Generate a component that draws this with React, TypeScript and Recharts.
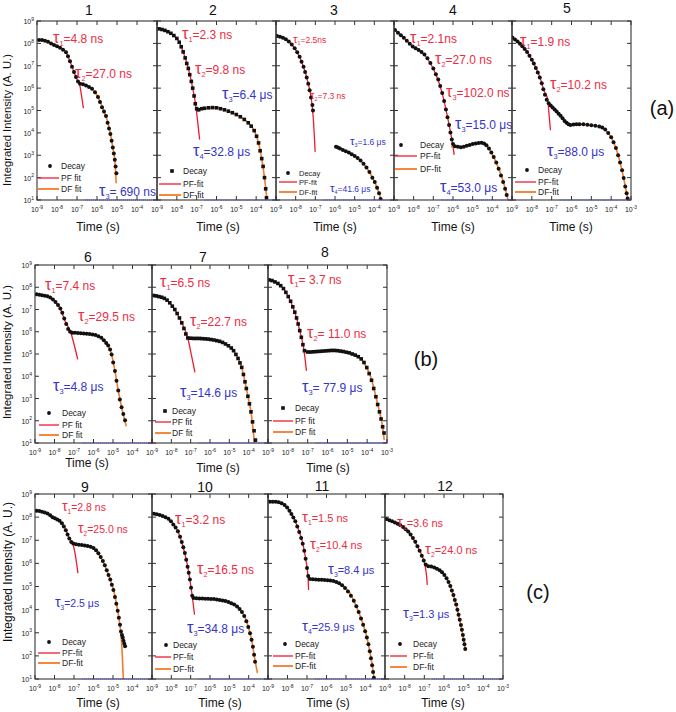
import React from 'react';
import { ComposedChart, Line, Scatter, XAxis, YAxis } from 'recharts';

// every point is [log10 time (s), log10 intensity (a.u.)]
type Pt = [number, number];

const decay1: Pt[] = [[-8.9,8.15],[-8.75,8.15],[-8.6,8.12],[-8.45,8.07],[-8.3,8.0],[-8.15,7.93],[-8.0,7.87],[-7.85,7.8],[-7.7,7.72],[-7.55,7.6],[-7.45,7.42],[-7.35,7.2],[-7.25,6.95],[-7.15,6.72],[-7.05,6.5],[-6.95,6.3],[-6.85,6.2],[-6.7,6.17],[-6.55,6.12],[-6.4,6.05],[-6.25,5.97],[-6.1,5.82],[-5.95,5.6],[-5.85,5.38],[-5.75,5.15],[-5.65,4.95],[-5.55,4.75],[-5.47,4.45],[-5.4,4.2],[-5.33,3.95],[-5.27,3.65],[-5.21,3.35],[-5.16,3.08],[-5.11,2.8],[-5.07,2.5],[-5.03,2.2]];
const pf1: Pt[] = [[-9,8.15],[-8.6,8.12],[-8.2,7.97],[-7.8,7.8],[-7.55,7.6],[-7.35,7.2],[-7.15,6.72],[-6.95,6.3],[-6.88,6.2],[-6.78,5.7],[-6.68,5.1]];
const df1: Pt[] = [[-6.9,6.25],[-6.7,6.18],[-6.4,6.06],[-6.1,5.83],[-5.85,5.4],[-5.65,4.95],[-5.5,4.6],[-5.35,4.05],[-5.2,3.3],[-5.1,2.7],[-5.04,1.75]];

const decay2: Pt[] = [[-8.9,8.65],[-8.75,8.62],[-8.6,8.58],[-8.45,8.52],[-8.3,8.45],[-8.15,8.35],[-8.0,8.22],[-7.88,8.05],[-7.78,7.85],[-7.68,7.62],[-7.58,7.35],[-7.5,7.1],[-7.42,6.88],[-7.35,6.6],[-7.27,6.3],[-7.2,6.0],[-7.13,5.65],[-7.07,5.3],[-7.0,5.08],[-6.9,5.03],[-6.75,5.08],[-6.6,5.1],[-6.4,5.12],[-6.2,5.13],[-6.0,5.12],[-5.8,5.08],[-5.6,5.03],[-5.4,4.97],[-5.2,4.9],[-5.0,4.82],[-4.8,4.72],[-4.6,4.6],[-4.4,4.45],[-4.25,4.3],[-4.1,4.1],[-3.98,3.85],[-3.88,3.55],[-3.8,3.2],[-3.72,2.85],[-3.65,2.5],[-3.58,2.0],[-3.52,1.5],[-3.48,1.1]];
const pf2: Pt[] = [[-9,8.66],[-8.6,8.58],[-8.2,8.38],[-7.9,8.1],[-7.68,7.62],[-7.42,6.88],[-7.2,6.0],[-7.05,5.25],[-6.95,4.5],[-6.85,3.7]];
const df2: Pt[] = [[-6.95,5.03],[-6.6,5.1],[-6.0,5.12],[-5.4,4.97],[-4.8,4.72],[-4.4,4.45],[-4.1,4.1],[-3.88,3.55],[-3.72,2.85],[-3.58,2.0],[-3.46,1.05]];

const decay3: Pt[] = [[-8.95,8.33],[-8.8,8.3],[-8.65,8.25],[-8.5,8.18],[-8.35,8.08],[-8.2,7.95],[-8.05,7.78],[-7.92,7.6],[-7.8,7.4],[-7.7,7.18],[-7.6,6.95],[-7.52,6.72],[-7.44,6.48],[-7.36,6.2],[-7.29,5.9],[-7.22,5.58],[-7.15,5.25],[-7.12,5.0],[-5.95,3.38],[-5.85,3.35],[-5.75,3.3],[-5.6,3.24],[-5.45,3.18],[-5.3,3.12],[-5.15,3.05],[-5.0,2.97],[-4.85,2.88],[-4.7,2.76],[-4.55,2.62],[-4.4,2.45],[-4.25,2.25],[-4.1,2.0],[-3.98,1.8],[-3.86,1.55],[-3.76,1.3],[-3.68,1.05]];
const pf3: Pt[] = [[-9,8.35],[-8.6,8.25],[-8.2,7.95],[-7.9,7.57],[-7.6,6.95],[-7.36,6.2],[-7.2,5.5],[-7.1,4.6],[-7.01,3.15]];
const df3: Pt[] = [[-5.95,3.38],[-5.6,3.24],[-5.2,3.07],[-4.85,2.88],[-4.55,2.62],[-4.25,2.25],[-3.98,1.8],[-3.76,1.3],[-3.66,1.0]];

const decay4: Pt[] = [[-8.95,8.6],[-8.8,8.48],[-8.65,8.36],[-8.5,8.25],[-8.35,8.12],[-8.2,7.98],[-8.05,7.86],[-7.9,7.78],[-7.75,7.7],[-7.6,7.62],[-7.45,7.5],[-7.3,7.33],[-7.15,7.12],[-7.0,6.88],[-6.87,6.62],[-6.75,6.38],[-6.65,6.1],[-6.55,5.78],[-6.45,5.42],[-6.36,5.05],[-6.28,4.7],[-6.2,4.35],[-6.13,4.02],[-6.06,3.7],[-6.0,3.5],[-5.9,3.4],[-5.75,3.38],[-5.6,3.36],[-5.45,3.38],[-5.3,3.42],[-5.15,3.46],[-5.0,3.5],[-4.85,3.53],[-4.7,3.55],[-4.55,3.56],[-4.42,3.53],[-4.3,3.45],[-4.17,3.3],[-4.05,3.12],[-3.93,2.92],[-3.8,2.68],[-3.68,2.4],[-3.56,2.1],[-3.45,1.8],[-3.35,1.5],[-3.27,1.22]];
const pf4: Pt[] = [[-9,8.65],[-8.5,8.25],[-8.0,7.84],[-7.6,7.62],[-7.2,7.18],[-6.85,6.58],[-6.55,5.78],[-6.3,4.8],[-6.12,4.0],[-6.02,3.5],[-5.94,3.02]];
const df4: Pt[] = [[-6.1,3.38],[-5.9,3.38],[-5.6,3.36],[-5.3,3.42],[-5.0,3.5],[-4.7,3.55],[-4.5,3.52],[-4.3,3.43],[-4.1,3.2],[-3.9,2.86],[-3.7,2.45],[-3.5,1.98],[-3.35,1.52],[-3.2,1.0]];

const decay5: Pt[] = [[-8.98,8.26],[-8.85,8.17],[-8.72,8.08],[-8.6,7.98],[-8.48,7.87],[-8.36,7.75],[-8.24,7.62],[-8.12,7.45],[-8.0,7.27],[-7.9,7.1],[-7.8,6.9],[-7.7,6.7],[-7.6,6.48],[-7.5,6.22],[-7.42,5.95],[-7.34,5.7],[-7.25,5.48],[-7.15,5.32],[-7.05,5.22],[-6.95,5.13],[-6.85,5.05],[-6.75,4.96],[-6.65,4.86],[-6.55,4.76],[-6.45,4.65],[-6.35,4.53],[-6.25,4.45],[-6.15,4.38],[-6.05,4.35],[-5.9,4.37],[-5.75,4.39],[-5.6,4.39],[-5.4,4.38],[-5.2,4.36],[-5.0,4.34],[-4.8,4.32],[-4.6,4.29],[-4.45,4.24],[-4.3,4.15],[-4.15,4.0],[-4.0,3.8],[-3.88,3.58],[-3.76,3.32],[-3.65,3.0],[-3.55,2.68],[-3.45,2.33],[-3.37,1.98],[-3.29,1.6],[-3.22,1.3],[-3.17,1.07]];
const pf5: Pt[] = [[-9,8.3],[-8.6,8.0],[-8.24,7.62],[-7.9,7.1],[-7.57,6.43],[-7.4,5.92],[-7.2,5.5],[-7.13,4.8],[-7.06,4.12]];
const df5: Pt[] = [[-6.1,4.34],[-5.6,4.39],[-5.0,4.34],[-4.5,4.26],[-4.2,4.05],[-3.95,3.72],[-3.76,3.32],[-3.55,2.68],[-3.37,1.98],[-3.22,1.3],[-3.15,1.0]];

const decay6: Pt[] = [[-8.92,7.68],[-8.78,7.66],[-8.64,7.64],[-8.5,7.62],[-8.36,7.59],[-8.22,7.54],[-8.08,7.45],[-7.95,7.34],[-7.82,7.2],[-7.7,7.04],[-7.6,6.85],[-7.5,6.6],[-7.4,6.35],[-7.3,6.12],[-7.2,6.0],[-7.08,5.96],[-6.95,5.95],[-6.8,5.94],[-6.65,5.93],[-6.5,5.92],[-6.35,5.91],[-6.2,5.9],[-6.05,5.88],[-5.9,5.85],[-5.75,5.8],[-5.6,5.73],[-5.47,5.62],[-5.35,5.5],[-5.25,5.38],[-5.15,5.2],[-5.07,4.98],[-4.99,4.62],[-4.9,4.24],[-4.82,3.8],[-4.73,3.36],[-4.65,2.95],[-4.56,2.61],[-4.47,2.3],[-4.38,2.02]];
const pf6: Pt[] = [[-9,7.7],[-8.5,7.62],[-8.08,7.45],[-7.7,7.04],[-7.45,6.47],[-7.17,5.98],[-7.0,5.45],[-6.81,4.76]];
const df6: Pt[] = [[-7.2,5.97],[-6.8,5.94],[-6.2,5.9],[-5.75,5.8],[-5.45,5.6],[-5.25,5.38],[-5.07,4.98],[-4.9,4.24],[-4.73,3.36],[-4.56,2.61],[-4.32,1.75]];

const decay7: Pt[] = [[-8.92,7.63],[-8.78,7.61],[-8.64,7.58],[-8.5,7.55],[-8.36,7.5],[-8.22,7.42],[-8.08,7.3],[-7.95,7.15],[-7.82,7.0],[-7.7,6.82],[-7.58,6.62],[-7.46,6.4],[-7.35,6.15],[-7.25,5.9],[-7.15,5.72],[-7.0,5.71],[-6.85,5.7],[-6.7,5.7],[-6.55,5.7],[-6.4,5.69],[-6.25,5.68],[-6.1,5.67],[-5.95,5.65],[-5.8,5.63],[-5.65,5.6],[-5.5,5.57],[-5.35,5.52],[-5.2,5.45],[-5.05,5.37],[-4.9,5.27],[-4.78,5.15],[-4.66,4.98],[-4.55,4.8],[-4.45,4.6],[-4.36,4.4],[-4.27,4.08],[-4.19,3.75],[-4.12,3.45],[-4.04,3.1],[-3.96,2.76],[-3.88,2.4],[-3.8,1.95],[-3.72,1.55],[-3.65,1.13]];
const pf7: Pt[] = [[-9,7.65],[-8.5,7.55],[-8.08,7.3],[-7.7,6.82],[-7.46,6.4],[-7.15,5.72],[-6.95,4.9],[-6.78,4.17]];
const df7: Pt[] = [[-7.15,5.72],[-6.6,5.7],[-5.95,5.65],[-5.35,5.52],[-4.9,5.27],[-4.6,4.9],[-4.36,4.4],[-4.19,3.75],[-4.04,3.1],[-3.88,2.4],[-3.7,1.0]];

const decay8: Pt[] = [[-8.95,8.33],[-8.8,8.3],[-8.65,8.24],[-8.5,8.17],[-8.36,8.07],[-8.22,7.94],[-8.1,7.77],[-7.98,7.58],[-7.86,7.37],[-7.75,7.12],[-7.65,6.88],[-7.56,6.62],[-7.48,6.35],[-7.4,6.05],[-7.32,5.75],[-7.24,5.42],[-7.16,5.15],[-7.0,5.09],[-6.85,5.09],[-6.7,5.1],[-6.55,5.11],[-6.4,5.12],[-6.25,5.13],[-6.1,5.14],[-5.95,5.15],[-5.8,5.16],[-5.65,5.16],[-5.5,5.15],[-5.35,5.13],[-5.2,5.11],[-5.05,5.08],[-4.9,5.05],[-4.75,5.0],[-4.6,4.95],[-4.45,4.88],[-4.3,4.78],[-4.16,4.62],[-4.02,4.39],[-3.9,4.12],[-3.78,3.82],[-3.67,3.45],[-3.56,3.08],[-3.47,2.73],[-3.38,2.4],[-3.3,2.08],[-3.22,1.73],[-3.15,1.45]];
const pf8: Pt[] = [[-9,8.35],[-8.5,8.17],[-8.16,7.87],[-7.82,7.28],[-7.56,6.62],[-7.4,6.05],[-7.2,5.25],[-7.06,4.24]];
const df8: Pt[] = [[-7.2,5.12],[-6.8,5.09],[-6.2,5.13],[-5.6,5.16],[-5.0,5.07],[-4.5,4.9],[-4.2,4.65],[-3.95,4.25],[-3.76,3.8],[-3.56,3.08],[-3.38,2.4],[-3.22,1.73],[-3.14,1.13]];

const decay9: Pt[] = [[-8.92,8.28],[-8.78,8.26],[-8.64,8.23],[-8.5,8.2],[-8.36,8.16],[-8.22,8.08],[-8.1,8.0],[-7.98,7.95],[-7.86,7.9],[-7.74,7.84],[-7.62,7.74],[-7.52,7.6],[-7.42,7.43],[-7.33,7.25],[-7.24,7.08],[-7.14,6.92],[-7.04,6.86],[-6.9,6.83],[-6.75,6.81],[-6.6,6.79],[-6.45,6.77],[-6.3,6.75],[-6.15,6.72],[-6.0,6.66],[-5.87,6.57],[-5.75,6.44],[-5.63,6.28],[-5.52,6.1],[-5.42,5.92],[-5.32,5.7],[-5.23,5.5],[-5.14,5.3],[-5.06,5.08],[-4.98,4.85],[-4.9,4.55],[-4.83,4.25],[-4.76,3.95],[-4.7,3.65],[-4.64,3.35],[-4.59,3.05],[-4.54,2.9],[-4.5,2.8],[-4.46,2.65],[-4.42,2.52],[-4.38,2.42]];
const pf9: Pt[] = [[-9,8.3],[-8.5,8.2],[-8.1,8.0],[-7.75,7.84],[-7.46,7.52],[-7.24,7.08],[-7.06,6.85],[-6.92,6.3],[-6.8,5.58]];
const df9: Pt[] = [[-7.1,6.86],[-6.7,6.8],[-6.2,6.73],[-5.9,6.58],[-5.6,6.22],[-5.35,5.77],[-5.14,5.3],[-4.97,4.85],[-4.8,4.14],[-4.66,3.42],[-4.56,2.6],[-4.47,1.0]];

const decay10: Pt[] = [[-8.9,8.15],[-8.75,8.12],[-8.6,8.09],[-8.45,8.05],[-8.3,8.0],[-8.15,7.93],[-8.02,7.82],[-7.9,7.68],[-7.78,7.55],[-7.66,7.39],[-7.55,7.15],[-7.46,6.92],[-7.38,6.7],[-7.3,6.45],[-7.23,6.16],[-7.16,5.85],[-7.1,5.6],[-7.04,5.3],[-6.98,4.95],[-6.92,4.6],[-6.85,4.5],[-6.7,4.49],[-6.55,4.48],[-6.4,4.48],[-6.25,4.47],[-6.1,4.47],[-5.95,4.46],[-5.8,4.46],[-5.65,4.44],[-5.5,4.42],[-5.35,4.4],[-5.2,4.37],[-5.05,4.33],[-4.9,4.28],[-4.75,4.22],[-4.6,4.14],[-4.47,4.03],[-4.35,3.9],[-4.23,3.72],[-4.12,3.5],[-4.02,3.25],[-3.93,2.98],[-3.85,2.7],[-3.78,2.4],[-3.72,2.05],[-3.67,1.75]];
const pf10: Pt[] = [[-9,8.2],[-8.5,8.06],[-8.02,7.82],[-7.66,7.39],[-7.4,6.74],[-7.2,6.05],[-7.05,5.35],[-6.92,4.6],[-6.8,3.78]];
const df10: Pt[] = [[-6.95,4.5],[-6.5,4.48],[-5.8,4.46],[-5.1,4.36],[-4.6,4.15],[-4.3,3.85],[-4.05,3.35],[-3.85,2.7],[-3.7,1.95],[-3.55,1.26]];

const decay11: Pt[] = [[-8.9,8.67],[-8.75,8.67],[-8.6,8.66],[-8.45,8.64],[-8.3,8.6],[-8.15,8.52],[-8.02,8.42],[-7.9,8.28],[-7.8,8.13],[-7.7,7.98],[-7.6,7.82],[-7.5,7.6],[-7.4,7.36],[-7.3,7.1],[-7.22,6.85],[-7.14,6.55],[-7.07,6.2],[-7.0,5.8],[-6.94,5.45],[-6.85,5.32],[-6.7,5.31],[-6.55,5.3],[-6.4,5.29],[-6.25,5.29],[-6.1,5.28],[-5.95,5.27],[-5.8,5.26],[-5.65,5.24],[-5.5,5.2],[-5.35,5.14],[-5.2,5.05],[-5.05,4.93],[-4.9,4.78],[-4.75,4.6],[-4.6,4.38],[-4.47,4.15],[-4.35,3.9],[-4.23,3.62],[-4.12,3.35],[-4.02,3.07],[-3.93,2.8],[-3.85,2.5],[-3.78,2.2],[-3.72,1.9],[-3.66,1.6],[-3.61,1.3],[-3.57,1.05]];
const pf11: Pt[] = [[-9,8.7],[-8.5,8.65],[-8.0,8.4],[-7.63,7.88],[-7.37,7.3],[-7.2,6.8],[-7.06,6.15],[-6.95,5.45],[-6.92,4.85]];
const df11: Pt[] = [[-6.9,5.32],[-6.4,5.29],[-5.7,5.25],[-5.2,5.05],[-4.8,4.72],[-4.5,4.2],[-4.2,3.56],[-3.94,2.84],[-3.73,1.98],[-3.55,1.0]];

const decay12: Pt[] = [[-8.92,7.92],[-8.78,7.87],[-8.64,7.82],[-8.5,7.77],[-8.36,7.71],[-8.22,7.65],[-8.08,7.57],[-7.95,7.48],[-7.82,7.38],[-7.7,7.25],[-7.58,7.1],[-7.46,6.93],[-7.35,6.74],[-7.24,6.55],[-7.13,6.33],[-7.03,6.12],[-6.93,5.95],[-6.8,5.88],[-6.65,5.86],[-6.5,5.82],[-6.36,5.77],[-6.22,5.7],[-6.1,5.62],[-5.98,5.5],[-5.87,5.36],[-5.77,5.2],[-5.68,5.02],[-5.6,4.83],[-5.52,4.63],[-5.45,4.42],[-5.38,4.22],[-5.32,4.0],[-5.26,3.78],[-5.2,3.56],[-5.14,3.34],[-5.09,3.13],[-5.04,2.9],[-5.0,2.7],[-4.96,2.5],[-4.92,2.3]];
const pf12: Pt[] = [[-9,7.95],[-8.5,7.77],[-8.0,7.52],[-7.64,7.16],[-7.3,6.65],[-7.04,6.15],[-6.95,5.85],[-6.88,5.4],[-6.85,5.07]];
const df12: Pt[] = [[-6.95,5.92],[-6.6,5.85],[-6.2,5.69],[-5.9,5.4],[-5.65,4.95],[-5.45,4.42],[-5.26,3.78],[-5.1,3.15],[-4.98,2.62],[-4.92,2.3]];

const X_TICKS = [-9, -8, -7, -6, -5, -4, -3];
const Y_TICKS = [1, 2, 3, 4, 5, 6, 7, 8, 9];

const RED = '#ec1c2e';
const ORANGE = '#f47a2a';
const TXT_RED = '#ee2b3f';
const TXT_BLUE = '#3434c8';
const AXIS = '#333';
const FONT = '"Liberation Sans", Arial, sans-serif';

const ROWS = [
  { top: 21, height: 179 },
  { top: 265, height: 178 },
  { top: 494, height: 185 },
];

interface Tau { n: number; text: string; x: number; y: number; blue?: boolean; size?: number }
interface Legend { x1: number; x2: number; mx: number; tx: number; ys: [number, number, number]; dash: boolean; size?: number }
interface PanelCfg {
  title: string; row: number; left: number; width: number;
  decay: Pt[]; pf: Pt[]; df: Pt[];
  square?: boolean; yLabels?: boolean; lastX?: boolean;
  titlePos: [number, number]; timePos: [number, number];
  legend: Legend; taus: Tau[];
}

const panels: PanelCfg[] = [
  { title: '1', row: 0, left: 37, width: 120, decay: decay1, pf: pf1, df: df1, yLabels: true,
    titlePos: [89, 15], timePos: [98, 231],
    legend: { x1: 38, x2: 59, mx: 50, tx: 61, ys: [166, 178, 189], dash: false },
    taus: [
      { n: 1, text: '=4.8 ns', x: 53, y: 43 },
      { n: 2, text: '=27.0 ns', x: 75, y: 78 },
      { n: 3, text: '= 690 ns', x: 99, y: 196, blue: true },
    ] },
  { title: '2', row: 0, left: 157, width: 119, decay: decay2, pf: pf2, df: df2, square: true,
    titlePos: [213, 15], timePos: [218, 231],
    legend: { x1: 159, x2: 181, mx: 172, tx: 183, ys: [171, 184, 195], dash: true },
    taus: [
      { n: 1, text: '=2.3 ns', x: 182, y: 39 },
      { n: 2, text: '=9.8 ns', x: 195, y: 74 },
      { n: 3, text: '=6.4 μs', x: 222, y: 99, blue: true },
      { n: 4, text: '=32.8 μs', x: 193, y: 156, blue: true },
    ] },
  { title: '3', row: 0, left: 276, width: 118, decay: decay3, pf: pf3, df: df3,
    titlePos: [334, 15], timePos: [335, 231],
    legend: { x1: 279, x2: 297, mx: 288, tx: 299, ys: [173, 182, 192], dash: true, size: 7.5 },
    taus: [
      { n: 1, text: '=2.5ns', x: 293, y: 43, size: 8.5 },
      { n: 2, text: '=7.3 ns', x: 310, y: 99, size: 8.5 },
      { n: 3, text: '=1.6 μs', x: 350, y: 145, blue: true, size: 8.5 },
      { n: 4, text: '=41.6 μs', x: 330, y: 192, blue: true, size: 8.5 },
    ] },
  { title: '4', row: 0, left: 394, width: 118, decay: decay4, pf: pf4, df: df4,
    titlePos: [453, 15], timePos: [453, 231],
    legend: { x1: 395, x2: 417, mx: 401, tx: 420, ys: [145, 156, 169], dash: true },
    taus: [
      { n: 1, text: '=2.1ns', x: 410, y: 43 },
      { n: 2, text: '=27.0 ns', x: 435, y: 64 },
      { n: 3, text: '=102.0 ns', x: 446, y: 97 },
      { n: 3, text: '=15.0 μs', x: 455, y: 129, blue: true },
      { n: 4, text: '=53.0 μs', x: 440, y: 192, blue: true },
    ] },
  { title: '5', row: 0, left: 512, width: 119, decay: decay5, pf: pf5, df: df5, lastX: true,
    titlePos: [567, 13], timePos: [571, 231],
    legend: { x1: 515, x2: 536, mx: 527, tx: 538, ys: [170, 182, 192], dash: true },
    taus: [
      { n: 1, text: '=1.9 ns', x: 520, y: 46 },
      { n: 2, text: '=10.2 ns', x: 550, y: 89 },
      { n: 3, text: '=88.0 μs', x: 547, y: 156, blue: true },
    ] },
  { title: '6', row: 1, left: 35, width: 117, decay: decay6, pf: pf6, df: df6, yLabels: true,
    titlePos: [88, 262], timePos: [87, 467],
    legend: { x1: 39, x2: 59, mx: 49, tx: 62, ys: [413, 425, 435], dash: false },
    taus: [
      { n: 1, text: '=7.4 ns', x: 45, y: 290 },
      { n: 2, text: '=29.5 ns', x: 78, y: 321 },
      { n: 3, text: '=4.8 μs', x: 53, y: 391, blue: true },
    ] },
  { title: '7', row: 1, left: 152, width: 116, decay: decay7, pf: pf7, df: df7, square: true,
    titlePos: [203, 262], timePos: [218, 472],
    legend: { x1: 155, x2: 171, mx: 165, tx: 172, ys: [411, 422, 433], dash: false },
    taus: [
      { n: 1, text: '=6.5 ns', x: 160, y: 287 },
      { n: 2, text: '=22.7 ns', x: 190, y: 326 },
      { n: 3, text: '=14.6 μs', x: 180, y: 397, blue: true },
    ] },
  { title: '8', row: 1, left: 268, width: 119, decay: decay8, pf: pf8, df: df8, square: true, lastX: true,
    titlePos: [325, 257], timePos: [328, 472],
    legend: { x1: 273, x2: 293, mx: 283, tx: 295, ys: [408, 421, 432], dash: false },
    taus: [
      { n: 1, text: '= 3.7 ns', x: 288, y: 284 },
      { n: 2, text: '= 11.0 ns', x: 307, y: 338 },
      { n: 3, text: '= 77.9 μs', x: 302, y: 392, blue: true },
    ] },
  { title: '9', row: 2, left: 35, width: 117, decay: decay9, pf: pf9, df: df9, yLabels: true,
    titlePos: [85, 492], timePos: [98, 707],
    legend: { x1: 38, x2: 60, mx: 49, tx: 62, ys: [642, 653, 663], dash: true },
    taus: [
      { n: 1, text: '=2.8 ns', x: 62, y: 511, size: 10.5 },
      { n: 2, text: '=25.0 ns', x: 78, y: 533, size: 10.5 },
      { n: 3, text: '=2.5 μs', x: 55, y: 607, blue: true, size: 10.5 },
    ] },
  { title: '10', row: 2, left: 152, width: 116, decay: decay10, pf: pf10, df: df10,
    titlePos: [205, 492], timePos: [220, 707],
    legend: { x1: 155, x2: 171, mx: 166, tx: 173, ys: [645, 657, 669], dash: true },
    taus: [
      { n: 1, text: '=3.2 ns', x: 175, y: 524 },
      { n: 2, text: '=16.5 ns', x: 197, y: 574 },
      { n: 3, text: '=34.8 μs', x: 187, y: 633, blue: true },
    ] },
  { title: '11', row: 2, left: 268, width: 117, decay: decay11, pf: pf11, df: df11,
    titlePos: [322, 491], timePos: [328, 707],
    legend: { x1: 273, x2: 293, mx: 285, tx: 295, ys: [644, 656, 666], dash: true },
    taus: [
      { n: 1, text: '=1.5 ns', x: 302, y: 522, size: 11 },
      { n: 2, text: '=10.4 ns', x: 310, y: 549, size: 11 },
      { n: 3, text: '=8.4 μs', x: 328, y: 574, blue: true, size: 11 },
      { n: 4, text: '=25.9 μs', x: 302, y: 631, blue: true, size: 11 },
    ] },
  { title: '12', row: 2, left: 385, width: 118, decay: decay12, pf: pf12, df: df12, lastX: true,
    titlePos: [445, 491], timePos: [443, 707],
    legend: { x1: 390, x2: 407, mx: 400, tx: 413, ys: [644, 656, 667], dash: true },
    taus: [
      { n: 1, text: '=3.6 ns', x: 397, y: 527, size: 11 },
      { n: 2, text: '=24.0 ns', x: 425, y: 554, size: 11 },
      { n: 3, text: '=1.3 μs', x: 403, y: 618, blue: true, size: 11 },
    ] },
];

const toRows = (pts: Pt[]) => pts.map(([x, y]) => ({ x, y }));

const ML = 30;
const MT = 6;
const MR = 6;
const XH = 26;

function Panel({ p }: { p: PanelCfg }) {
  const row = ROWS[p.row];
  const W = p.width;
  const H = row.height;

  const xTick = (props: any) => {
    const { x, payload } = props;
    const v = payload.value as number;
    const show = v < -3 || p.lastX;
    return (
      <g>
        <line x1={x} x2={x} y1={MT + H} y2={MT + H - 4} stroke={AXIS} />
        <line x1={x} x2={x} y1={MT} y2={MT + 4} stroke={AXIS} />
        {show && (
          <text x={x} y={MT + H + 12} textAnchor="middle" fontSize={7} fill="#222" fontFamily={FONT}>
            10<tspan fontSize={5} dy={-3.5}>{v}</tspan>
          </text>
        )}
      </g>
    );
  };

  const yTick = (props: any) => {
    const { y, payload } = props;
    const v = payload.value as number;
    return (
      <g>
        <line x1={ML} x2={ML + 4} y1={y} y2={y} stroke={AXIS} />
        <line x1={ML + W - 4} x2={ML + W} y1={y} y2={y} stroke={AXIS} />
        {p.yLabels && (
          <text x={ML - 3} y={y + 3} textAnchor="end" fontSize={7} fill="#222" fontFamily={FONT}>
            10<tspan fontSize={5} dy={-3.5}>{v}</tspan>
          </text>
        )}
      </g>
    );
  };

  const dot = (props: any) =>
    p.square ? (
      <rect x={props.cx - 1.8} y={props.cy - 1.8} width={3.6} height={3.6} fill="#111" />
    ) : (
      <circle cx={props.cx} cy={props.cy} r={2} fill="#111" />
    );

  return (
    <div style={{ position: 'absolute', left: p.left - ML, top: row.top - MT }}>
      <ComposedChart
        width={ML + W + MR}
        height={MT + H + XH}
        margin={{ top: MT, right: MR, left: 0, bottom: 0 }}
      >
        <XAxis
          type="number"
          dataKey="x"
          domain={[-9, -3]}
          ticks={X_TICKS}
          interval={0}
          allowDataOverflow
          height={XH}
          tickSize={0}
          tickMargin={0}
          axisLine={false}
          tickLine={false}
          tick={xTick}
        />
        <YAxis
          type="number"
          dataKey="y"
          domain={[1, 9]}
          ticks={Y_TICKS}
          interval={0}
          allowDataOverflow
          width={ML}
          tickSize={0}
          tickMargin={0}
          axisLine={false}
          tickLine={false}
          tick={yTick}
        />
        <Scatter data={toRows(p.decay)} dataKey="y" shape={dot} isAnimationActive={false} />
        <Line data={toRows(p.pf)} dataKey="y" type="monotone" stroke={RED} strokeWidth={1.3}
          dot={false} activeDot={false} isAnimationActive={false} />
        <Line data={toRows(p.df)} dataKey="y" type="monotone" stroke={ORANGE} strokeWidth={1.6}
          dot={false} activeDot={false} isAnimationActive={false} />
      </ComposedChart>
    </div>
  );
}

function TauText({ t }: { t: Tau }) {
  const s = t.size ?? 12;
  return (
    <text x={t.x} y={t.y} fill={t.blue ? TXT_BLUE : TXT_RED} fontSize={s} fontFamily={FONT}>
      <tspan fontSize={s * 1.35}>τ</tspan>
      <tspan fontSize={s * 0.62} dy={s * 0.25}>{t.n}</tspan>
      <tspan dy={-s * 0.25}>{t.text}</tspan>
    </text>
  );
}

function Overlay() {
  return (
    <svg width={676} height={712} style={{ position: 'absolute', left: 0, top: 0, pointerEvents: 'none' }}>
      {panels.map((p) => {
        const row = ROWS[p.row];
        const lg = p.legend;
        const fs = lg.size ?? 8.5;
        const pfLabel = lg.dash ? 'PF-fit' : 'PF fit';
        const dfLabel = lg.dash ? 'DF-fit' : 'DF fit';
        return (
          <g key={p.title}>
            <rect x={p.left} y={row.top} width={p.width} height={row.height} fill="none" stroke={AXIS} strokeWidth={1.1} />
            <line x1={p.left + p.width * 0.4} x2={p.left + p.width} y1={row.top + row.height} y2={row.top + row.height}
              stroke="#4a4ae0" strokeWidth={1.1} strokeDasharray="1 1" />
            <text x={p.titlePos[0]} y={p.titlePos[1]} textAnchor="middle" fontSize={14} fontFamily={FONT} fill="#111">{p.title}</text>
            <text x={p.timePos[0]} y={p.timePos[1]} textAnchor="middle" fontSize={12} fontFamily={FONT} fill="#111">Time (s)</text>
            {p.square ? (
              <rect x={lg.mx - 1.8} y={lg.ys[0] - 1.8} width={3.6} height={3.6} fill="#111" />
            ) : (
              <circle cx={lg.mx} cy={lg.ys[0]} r={1.9} fill="#111" />
            )}
            <text x={lg.tx} y={lg.ys[0] + 3} fontSize={fs} fontFamily={FONT} fill="#222">Decay</text>
            <line x1={lg.x1} x2={lg.x2} y1={lg.ys[1]} y2={lg.ys[1]} stroke={RED} strokeWidth={1.3} />
            <text x={lg.tx} y={lg.ys[1] + 3} fontSize={fs} fontFamily={FONT} fill="#222">{pfLabel}</text>
            <line x1={lg.x1} x2={lg.x2} y1={lg.ys[2]} y2={lg.ys[2]} stroke={ORANGE} strokeWidth={1.8} />
            <text x={lg.tx} y={lg.ys[2] + 3} fontSize={fs} fontFamily={FONT} fill="#222">{dfLabel}</text>
            {p.taus.map((t, i) => <TauText key={i} t={t} />)}
          </g>
        );
      })}
      <text transform="translate(11,120) rotate(-90)" textAnchor="middle" fontSize={11.3} fontFamily={FONT} fill="#111">Integrated Intensity (A. U.)</text>
      <text transform="translate(11,352) rotate(-90)" textAnchor="middle" fontSize={11.5} fontFamily={FONT} fill="#111">Integrated Intensity (A. U.)</text>
      <text transform="translate(12,572) rotate(-90)" textAnchor="middle" fontSize={12} fontFamily={FONT} fill="#111">Integrated Intensity (A. U.)</text>
      <text x={662} y={115} textAnchor="middle" fontSize={20} fontFamily={FONT} fill="#111">(a)</text>
      <text x={426} y={366} textAnchor="middle" fontSize={20} fontFamily={FONT} fill="#111">(b)</text>
      <text x={538} y={599} textAnchor="middle" fontSize={20} fontFamily={FONT} fill="#111">(c)</text>
    </svg>
  );
}

export default function App() {
  return (
    <div style={{ position: 'absolute', left: 0, top: 0, width: 676, height: 712, background: '#fff', overflow: 'hidden' }}>
      {panels.map((p) => <Panel key={p.title} p={p} />)}
      <Overlay />
    </div>
  );
}
